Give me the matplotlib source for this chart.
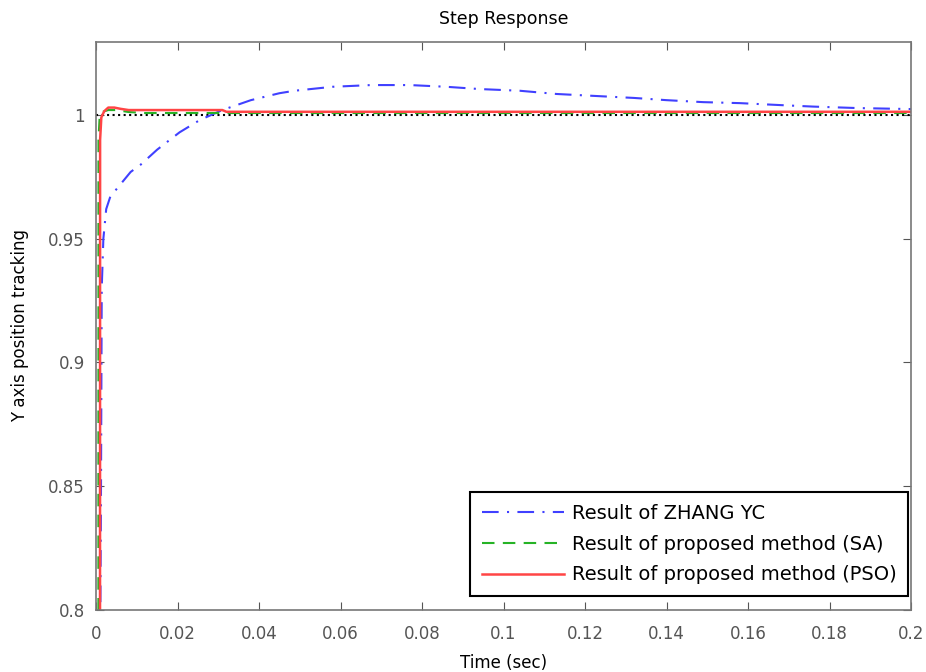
import numpy as np
import matplotlib
matplotlib.use('Agg')
import matplotlib.pyplot as plt
from matplotlib.ticker import FormatStrFormatter

plt.rcParams['font.family'] = ['DejaVu Sans']

# Result of ZHANG YC
t_zhang = [0.0009, 0.0012, 0.0014, 0.0018, 0.0025, 0.0035, 0.006, 0.0085, 0.011,
           0.015, 0.0205, 0.0255, 0.031, 0.038, 0.045, 0.0487, 0.058, 0.0675,
           0.077, 0.086, 0.094, 0.104, 0.113, 0.1225, 0.132, 0.14, 0.149, 0.158,
           0.168, 0.176, 0.187, 0.2]
y_zhang = [0.75, 0.84, 0.93, 0.95, 0.962, 0.967, 0.972, 0.977, 0.980,
           0.986, 0.993, 0.998, 1.002, 1.006, 1.0088, 1.0098, 1.0114, 1.0121,
           1.0121, 1.0114, 1.0105, 1.0098, 1.0085, 1.0077, 1.0069, 1.006, 1.0052, 1.0048,
           1.004, 1.0034, 1.0028, 1.0024]

# Result of proposed method (SA)
t_sa = [0.0005, 0.0006, 0.0009, 0.0015, 0.003, 0.005, 0.008, 0.012, 0.2]
y_sa = [0.0, 0.99, 0.9995, 1.0012, 1.002, 1.002, 1.0012, 1.0008, 1.0008]

# Result of proposed method (PSO)
t_pso = [0.0009, 0.001, 0.0013, 0.002, 0.003, 0.0045, 0.006, 0.008, 0.031, 0.032, 0.2]
y_pso = [0.0, 0.99, 0.999, 1.0015, 1.003, 1.003, 1.0025, 1.002, 1.002, 1.0013, 1.0013]

# reference line
t_ref = [0.0, 0.2]
y_ref = [1.0, 1.0]

fig = plt.figure(figsize=(9.26, 6.72), dpi=100)
ax = fig.add_axes([0.1037, 0.0923, 0.8801, 0.8452])

ax.plot(t_ref, y_ref, ':', color='black', linewidth=1.5)
l1, = ax.plot(t_zhang, y_zhang, '-.', color=(0.25, 0.25, 1.0), linewidth=1.5,
              dashes=(8, 4, 1, 4), label='Result of ZHANG YC')
l2, = ax.plot(t_sa, y_sa, '--', color=(0.15, 0.7, 0.15), linewidth=1.5,
              dashes=(6, 4), label='Result of proposed method (SA)')
l3, = ax.plot(t_pso, y_pso, '-', color=(1.0, 0.27, 0.27), linewidth=1.8,
              label='Result of proposed method (PSO)')

ax.set_xlim(0, 0.2)
ax.set_ylim(0.8, 1.0295)
ax.set_xticks(np.arange(0, 0.2001, 0.02))
ax.set_yticks([0.8, 0.85, 0.9, 0.95, 1.0])
ax.xaxis.set_major_formatter(FormatStrFormatter('%g'))
ax.yaxis.set_major_formatter(FormatStrFormatter('%g'))
ax.tick_params(direction='in', top=True, right=True, length=6, colors='#555555',
               labelsize=12, pad=8)
ax.tick_params(axis='x', pad=11)
for s in ax.spines.values():
    s.set_color('#777777')
    s.set_linewidth(1.2)

ax.set_title('Step Response', fontsize=12.5, pad=13)
ax.set_xlabel('Time (sec)', fontsize=12, labelpad=8)
ax.set_ylabel('Y axis position tracking', fontsize=12, labelpad=14)

leg = ax.legend(handles=[l1, l2, l3], loc='lower right', fontsize=14,
                fancybox=False, framealpha=1, borderpad=0.6, labelspacing=0.6,
                handlelength=4.2, handletextpad=0.4, borderaxespad=0,
                bbox_to_anchor=(0.9963, 0.0246))
leg.get_frame().set_edgecolor('black')
leg.get_frame().set_linewidth(1.5)

plt.savefig('out.png', dpi=100)
